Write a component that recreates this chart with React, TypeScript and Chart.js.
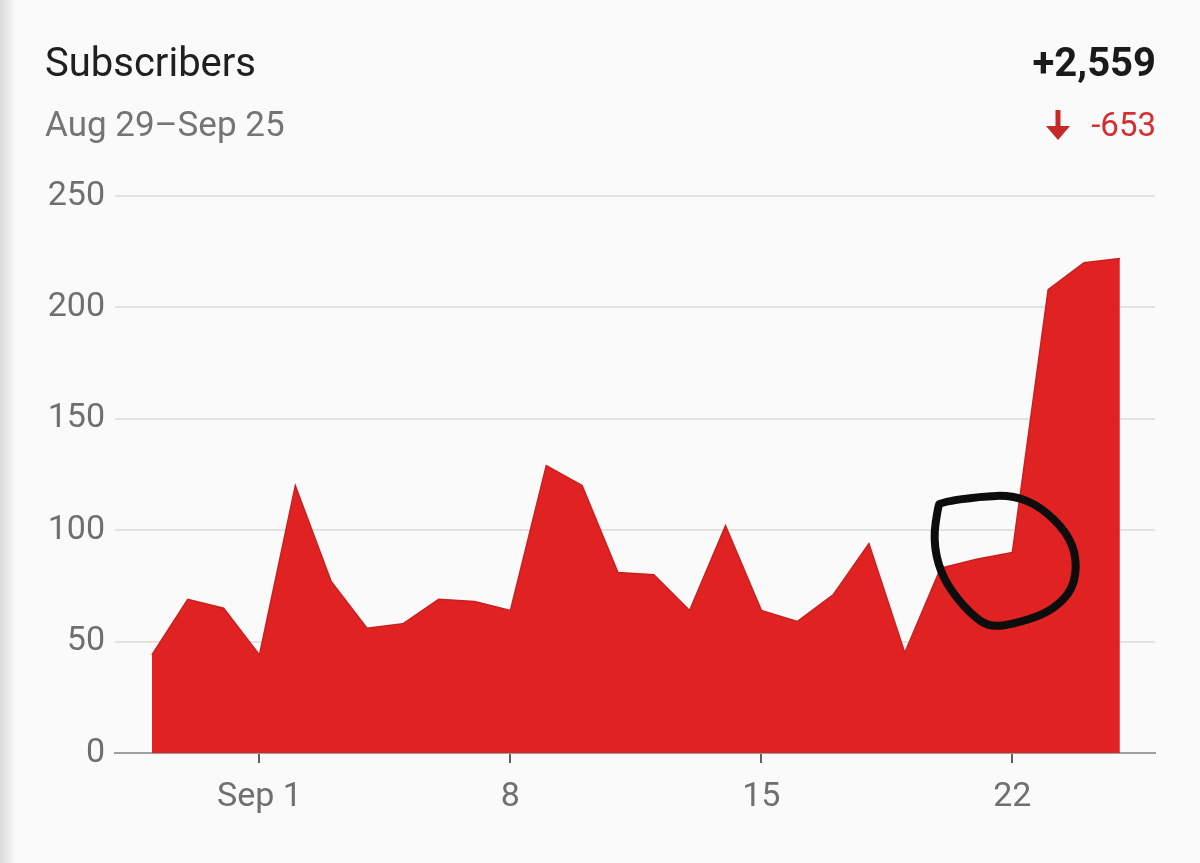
import React, { useEffect, useRef } from "react";
import { Chart, registerables } from "chart.js";

Chart.register(...registerables);

// ---- data ----
const days = [
  "Aug 29", "Aug 30", "Aug 31",
  "Sep 1", "Sep 2", "Sep 3", "Sep 4", "Sep 5", "Sep 6", "Sep 7",
  "Sep 8", "Sep 9", "Sep 10", "Sep 11", "Sep 12", "Sep 13", "Sep 14",
  "Sep 15", "Sep 16", "Sep 17", "Sep 18", "Sep 19", "Sep 20", "Sep 21",
  "Sep 22", "Sep 23", "Sep 24", "Sep 25",
];
const subscribers = [
  44, 69, 65,
  44, 120, 77, 56, 58, 69, 68,
  64, 129, 120, 81, 80, 64, 102,
  64, 59, 71, 94, 45, 83, 87,
  90, 208, 220, 222,
];
const xTickDays = ["Sep 1", "Sep 8", "Sep 15", "Sep 22"];
const xTickLabels = ["Sep 1", "8", "15", "22"];
const yTicks = [0, 50, 100, 150, 200, 250];

const titleText = "Subscribers";
const rangeText = "Aug 29\u2013Sep 25";
const totalText = "+2,559";
const changeText = "-653";

// hand-drawn annotation around Sep 21–22
const circleCenterIndex = 23.8;
const circleCenterValue = 86;
const circleShape: [number, number][] = [
  [-65, -59], [-25, -65], [8, -66], [35, -55], [62, -29], [72, -2],
  [68, 28], [48, 48], [25, 58], [-8, 66], [-25, 61], [-48, 38],
  [-65, 11], [-72, -22], [-67, -55],
];

const RED = "#e02322";

const annotationPlugin = {
  id: "handCircle",
  afterDatasetsDraw(chart: any) {
    const { ctx, scales } = chart;
    const cx = scales.x.getPixelForValue(circleCenterIndex);
    const cy = scales.y.getPixelForValue(circleCenterValue);
    const pts = circleShape.map(([dx, dy]) => [cx + dx, cy + dy]);
    ctx.save();
    ctx.strokeStyle = "#0d0d0d";
    ctx.lineWidth = 8;
    ctx.lineCap = "round";
    ctx.lineJoin = "round";
    ctx.beginPath();
    const n = pts.length;
    const mid = (a: number[], b: number[]) => [(a[0] + b[0]) / 2, (a[1] + b[1]) / 2];
    const m0 = mid(pts[n - 1], pts[0]);
    ctx.moveTo(m0[0], m0[1]);
    for (let i = 0; i < n; i++) {
      const p = pts[i];
      const m = mid(p, pts[(i + 1) % n]);
      ctx.quadraticCurveTo(p[0], p[1], m[0], m[1]);
    }
    ctx.stroke();
    ctx.restore();
  },
};

export default function App() {
  const canvasRef = useRef<HTMLCanvasElement | null>(null);

  useEffect(() => {
    if (!canvasRef.current) return;
    Chart.defaults.font.family = "Roboto";
    const chart = new Chart(canvasRef.current, {
      type: "line",
      data: {
        datasets: [
          {
            data: subscribers.map((v, i) => ({ x: i, y: v })),
            fill: "origin",
            backgroundColor: RED,
            borderColor: "#c9201f",
            borderWidth: 1.5,
            pointRadius: 0,
            tension: 0,
          },
        ],
      },
      options: {
        responsive: false,
        animation: false,
        events: [],
        layout: { padding: { left: 0, right: 45, top: 196, bottom: 0 } },
        plugins: {
          legend: { display: false },
          tooltip: { enabled: false },
          title: { display: false },
        },
        scales: {
          x: {
            type: "linear",
            min: -1.03,
            max: 27.98,
            afterFit: (scale: any) => {
              scale.height = 110;
            },
            afterBuildTicks: (scale: any) => {
              scale.ticks = xTickDays.map((d) => ({ value: days.indexOf(d) }));
            },
            ticks: {
              autoSkip: false,
              maxRotation: 0,
              padding: 14,
              color: "#6f6f6f",
              font: { size: 34 },
              callback: (_v: any, i: number) => xTickLabels[i],
            },
            grid: {
              drawOnChartArea: false,
              drawTicks: true,
              tickLength: 10,
              color: "#5f5f5f",
              lineWidth: 2,
            },
            border: { display: true, color: "#9e9e9e", width: 2 },
          },
          y: {
            min: 0,
            max: 250,
            afterFit: (scale: any) => {
              scale.width = 115;
            },
            afterBuildTicks: (scale: any) => {
              scale.ticks = yTicks.map((v) => ({ value: v }));
            },
            ticks: {
              padding: 10,
              color: "#6f6f6f",
              font: { size: 34 },
            },
            grid: {
              drawTicks: false,
              color: "#e2e2e2",
              lineWidth: 2,
            },
            border: { display: false },
          },
        },
      },
      plugins: [annotationPlugin],
    });
    return () => chart.destroy();
  }, []);

  return (
    <div
      style={{
        position: "absolute",
        left: 0,
        top: 0,
        width: 1200,
        height: 863,
        background: "#fafafa",
        overflow: "hidden",
        fontFamily: "Roboto",
      }}
    >
      <div
        style={{
          position: "absolute",
          left: 0,
          top: 0,
          width: 16,
          height: 863,
          background: "linear-gradient(to right, #d9d9d9, #fafafa)",
        }}
      />
      <canvas
        ref={canvasRef}
        width={1200}
        height={863}
        style={{ position: "absolute", left: 0, top: 0, display: "block" }}
      />
      <div
        style={{
          position: "absolute",
          left: 45,
          top: 43,
          fontSize: 40,
          lineHeight: "40px",
          color: "#202020",
          whiteSpace: "nowrap",
        }}
      >
        {titleText}
      </div>
      <div
        style={{
          position: "absolute",
          left: 45,
          top: 107,
          fontSize: 35,
          lineHeight: "35px",
          color: "#757575",
          whiteSpace: "nowrap",
        }}
      >
        {rangeText}
      </div>
      <div
        style={{
          position: "absolute",
          right: 44,
          top: 43,
          fontSize: 40,
          lineHeight: "40px",
          fontWeight: 700,
          color: "#1a1a1a",
          whiteSpace: "nowrap",
        }}
      >
        {totalText}
      </div>
      <div
        style={{
          position: "absolute",
          right: 44,
          top: 108,
          fontSize: 33,
          lineHeight: "33px",
          color: "#d32f2f",
          whiteSpace: "nowrap",
          display: "flex",
          alignItems: "center",
        }}
      >
        <svg width="26" height="32" viewBox="0 0 26 32" style={{ marginRight: 20 }}>
          <rect x="10.5" y="1" width="5" height="20" fill="#c62828" />
          <polygon points="1,17 25,17 13,31" fill="#c62828" />
        </svg>
        <span>{changeText}</span>
      </div>
    </div>
  );
}
